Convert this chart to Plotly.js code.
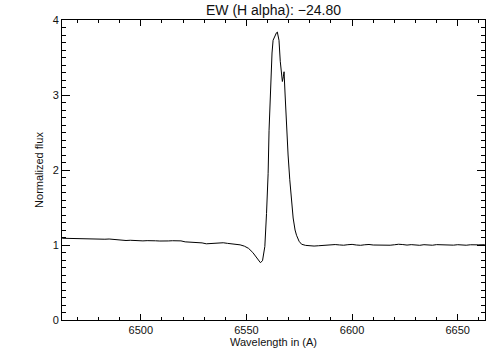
<!DOCTYPE html>
<html>
<head>
<meta charset="utf-8">
<script src="https://cdn.plot.ly/plotly-3.0.1.min.js"></script>
<style>html,body{margin:0;padding:0;background:#fff;}#chart{width:504px;height:360px;}</style>
</head>
<body>
<div id="chart"></div>
<script>
const titleText = "EW (H alpha): \u221224.80";
const xLabel = "Wavelength in (A)";
const yLabel = "Normalized flux";
const xTickVals = [6500, 6550, 6600, 6650];
const yTickVals = [0, 1, 2, 3, 4];

const wavelength = [
  6462.8, 6465, 6467, 6469, 6471, 6473, 6475, 6477, 6479, 6481,
  6483, 6485, 6487, 6489, 6491, 6493, 6495, 6497, 6499, 6501,
  6503, 6505, 6507, 6509, 6511, 6513, 6515, 6517, 6519, 6521,
  6523, 6525, 6527, 6529, 6531, 6533, 6535, 6537, 6539, 6541,
  6543, 6545, 6547, 6549, 6551, 6553, 6555, 6556.6, 6557.6, 6558.7,
  6559.5, 6560.25, 6560.7, 6561.3, 6561.8, 6562.1, 6562.6, 6563.5, 6564.2, 6564.6,
  6565.0, 6565.4, 6566.0, 6566.5, 6567.0, 6567.5, 6567.8, 6568.3, 6568.9, 6569.7,
  6570.5, 6571.3, 6572.1, 6573.0, 6573.7, 6574.9, 6576.1, 6578, 6580, 6582,
  6584, 6586, 6588, 6590, 6592, 6594, 6596, 6598, 6600, 6602,
  6604, 6606, 6608, 6610, 6612, 6614, 6616, 6618, 6620, 6622,
  6624, 6626, 6628, 6630, 6632, 6634, 6636, 6638, 6640, 6642,
  6644, 6646, 6648, 6650, 6652, 6654, 6656, 6658, 6660, 6662.8
];
const flux = [
  1.090, 1.088, 1.091, 1.086, 1.089, 1.084, 1.087, 1.082, 1.085, 1.079,
  1.077, 1.080, 1.074, 1.071, 1.066, 1.060, 1.063, 1.058, 1.061, 1.055,
  1.058, 1.052, 1.056, 1.053, 1.050, 1.054, 1.057, 1.061, 1.055, 1.042,
  1.040, 1.036, 1.033, 1.028, 1.016, 1.020, 1.032, 1.036, 1.030, 1.022,
  1.018, 1.012, 1.002, 0.985, 0.955, 0.900, 0.820, 0.765, 0.790, 0.980,
  1.420, 1.950, 2.530, 3.000, 3.250, 3.560, 3.730, 3.800, 3.830, 3.840,
  3.800, 3.730, 3.450, 3.240, 3.180, 3.250, 3.310, 3.000, 2.600, 2.200,
  1.870, 1.600, 1.360, 1.200, 1.130, 1.050, 1.010, 0.995, 0.988, 0.986,
  0.990, 0.995, 1.003, 0.998, 1.006, 1.001, 0.997, 1.004, 1.008, 1.000,
  0.996, 1.003, 1.007, 1.000, 0.998, 1.004, 1.002, 0.997, 1.003, 1.010,
  1.006, 0.999, 1.005, 1.000, 0.996, 1.004, 1.000, 0.997, 1.005, 1.002,
  1.009, 1.001, 0.998, 1.004, 1.000, 0.997, 1.003, 1.000, 1.002, 1.004
];

const font = {family: "Liberation Sans, Arial, sans-serif", color: "#111", size: 11};

const trace = {
  x: wavelength, y: flux, type: "scatter", mode: "lines",
  line: {color: "#000", width: 1}, hoverinfo: "skip"
};

const axisCommon = {
  showgrid: false, zeroline: false, showline: true, linecolor: "#000", linewidth: 1,
  mirror: "ticks", ticks: "inside", tickcolor: "#000", tickwidth: 1,
  tickfont: font
};

const layout = {
  width: 504, height: 360,
  margin: {l: 62, r: 19, t: 20, b: 40},
  paper_bgcolor: "#fff", plot_bgcolor: "#fff",
  showlegend: false,
  font: font,
  title: {text: titleText, font: {family: font.family, size: 14, color: "#111"},
          x: 0.5, xref: "paper", xanchor: "center", y: 1 - 10/360, yref: "container", yanchor: "middle"},
  xaxis: Object.assign({}, axisCommon, {
    range: [6462.7, 6662.9], tickvals: xTickVals, ticktext: xTickVals.map(String), ticklen: 6,
    minor: {dtick: 10, tick0: 6500, ticklen: 3, ticks: "inside", tickcolor: "#000", showgrid: false},
    title: {text: xLabel, font: font, standoff: 3}
  }),
  yaxis: Object.assign({}, axisCommon, {
    range: [0, 4], tickvals: yTickVals, ticktext: yTickVals.map(String), ticklen: 8,
    minor: {dtick: 0.1, tick0: 0, ticklen: 4, ticks: "inside", tickcolor: "#000", showgrid: false},
    title: {text: yLabel, font: font, standoff: 6}
  })
};

Plotly.newPlot("chart", [trace], layout, {staticPlot: true, displayModeBar: false});
</script>
</body>
</html>
